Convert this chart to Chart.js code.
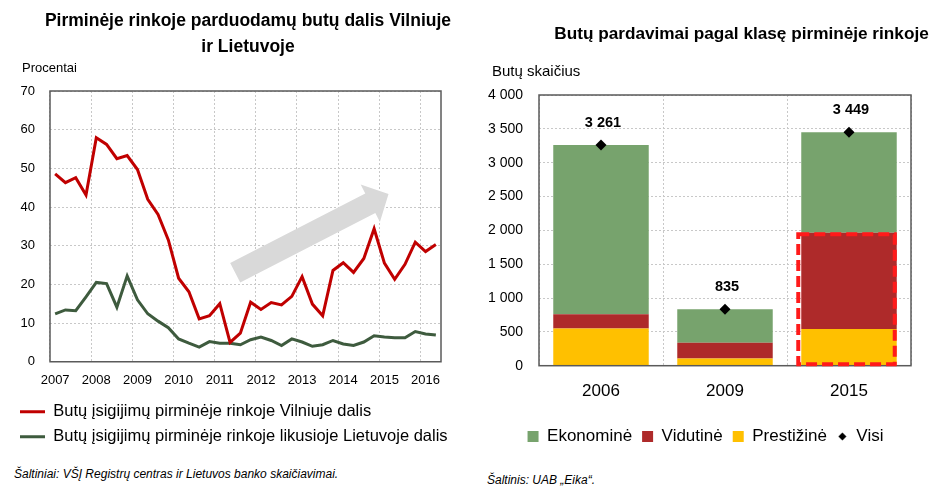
<!DOCTYPE html>
<html><head><meta charset="utf-8">
<script src="https://cdn.jsdelivr.net/npm/chart.js@4.4.1/dist/chart.umd.min.js"></script>
<style>
html,body{margin:0;padding:0;background:#fff;}
#wrap{position:relative;width:934px;height:496px;overflow:hidden;font-family:'Liberation Sans',Arial,sans-serif;color:#000;}
.box{position:absolute;}
.box canvas{display:block;}
.t{position:absolute;white-space:nowrap;}
</style></head><body>
<div id="wrap">
<div class="box" style="left:0;top:0;width:462px;height:455px"><canvas id="c1"></canvas></div>
<div class="box" style="left:470px;top:0;width:464px;height:455px"><canvas id="c2"></canvas></div>
<div class="t" style="left:0;width:496px;top:7px;text-align:center;font-weight:bold;font-size:17.5px;line-height:26px;white-space:normal">Pirminėje rinkoje parduodamų butų dalis Vilniuje<br>ir Lietuvoje</div>
<div class="t" style="left:541px;width:401px;top:20px;text-align:center;font-weight:bold;font-size:17.2px;line-height:26px">Butų pardavimai pagal klasę pirminėje rinkoje</div>
<div class="t" style="left:22px;top:60px;font-size:13px;line-height:16px">Procentai</div>
<div class="t" style="left:492px;top:62px;font-size:15px;line-height:18px">Butų skaičius</div>
<div class="t" style="left:14px;top:466px;font-size:12px;line-height:16px;font-style:italic">Šaltiniai: VŠĮ Registrų centras ir Lietuvos banko skaičiavimai.</div>
<div class="t" style="left:487px;top:472px;font-size:12px;line-height:16px;font-style:italic">Šaltinis: UAB „Eika“.</div>
</div>
<script>
// ---------- Left chart data ----------
const quarters = [
 '2007 K1','2007 K2','2007 K3','2007 K4',
 '2008 K1','2008 K2','2008 K3','2008 K4',
 '2009 K1','2009 K2','2009 K3','2009 K4',
 '2010 K1','2010 K2','2010 K3','2010 K4',
 '2011 K1','2011 K2','2011 K3','2011 K4',
 '2012 K1','2012 K2','2012 K3','2012 K4',
 '2013 K1','2013 K2','2013 K3','2013 K4',
 '2014 K1','2014 K2','2014 K3','2014 K4',
 '2015 K1','2015 K2','2015 K3','2015 K4',
 '2016 K1','2016 K2'
];
const vilniusShare = [48.6,46.3,47.6,43.1,57.9,56.2,52.5,53.3,49.7,42.0,38.1,31.5,21.6,18.1,11.1,11.9,15.0,5.0,7.4,15.4,13.5,15.3,14.7,16.9,22.0,14.9,11.9,23.6,25.6,23.1,26.7,34.4,25.5,21.3,25.2,30.9,28.5,30.3];
const restShare = [12.4,13.4,13.2,16.8,20.5,20.2,14.1,22.2,16.0,12.4,10.5,8.8,5.9,4.8,3.8,5.2,4.8,4.8,4.4,5.7,6.4,5.5,4.2,5.9,5.1,4.0,4.4,5.5,4.6,4.2,5.1,6.7,6.4,6.2,6.2,7.8,7.2,6.9];
const lineSeriesNames = ['Butų įsigijimų pirminėje rinkoje Vilniuje dalis','Butų įsigijimų pirminėje rinkoje likusioje Lietuvoje dalis'];
// trend arrow (annotation) in data units: [category index, value]
const arrowFrom = [17.5, 23.0];
const arrowTo = [32.4, 43.4];

// ---------- Right chart data ----------
const years = ['2006','2009','2015'];
const prestizine = [551,108,541];
const vidutine = [211,231,1422];
const ekonomine = [2499,496,1486];
const visi = [3261,835,3449];
const barSeriesNames = ['Prestižinė','Vidutinė','Ekonominė','Visi'];
const legendOrder = ['Ekonominė','Vidutinė','Prestižinė','Visi'];

const FONT = "'Liberation Sans', Arial, sans-serif";
Chart.defaults.font.family = FONT;
Chart.defaults.color = '#000';

const fmt = v => String(v).replace(/\B(?=(\d{3})+(?!\d))/g, ' ');

const framePlugin = {
  id: 'frame',
  afterDatasetsDraw(chart) {
    const a = chart.chartArea, ctx = chart.ctx;
    ctx.save();
    ctx.strokeStyle = '#5a5a5a';
    ctx.lineWidth = 1.5;
    ctx.strokeRect(a.left, a.top, a.right - a.left, a.bottom - a.top);
    ctx.restore();
  }
};

// let y tick labels extend left of the (narrow) axis box
const noLabelClipPlugin = {
  id: 'noLabelClip',
  beforeDraw(chart) {
    Object.values(chart.scales).forEach(s => { if (s.axis === 'y') s._computeLabelArea = () => undefined; });
  }
};

const arrowPlugin = {
  id: 'trendArrow',
  beforeDatasetsDraw(chart) {
    const xs = chart.scales.x, ys = chart.scales.y, ctx = chart.ctx;
    const x0 = xs.getPixelForValue(arrowFrom[0]), y0 = ys.getPixelForValue(arrowFrom[1]);
    const x1 = xs.getPixelForValue(arrowTo[0]), y1 = ys.getPixelForValue(arrowTo[1]);
    const dx = x1 - x0, dy = y1 - y0, L = Math.hypot(dx, dy);
    const ux = dx / L, uy = dy / L, nx = -uy, ny = ux;
    const sw = 11, hw = 21, hl = 20.5;
    const bx = x1 - ux * hl, by = y1 - uy * hl;
    ctx.save();
    ctx.fillStyle = '#d9d9d9';
    ctx.beginPath();
    ctx.moveTo(x0 + nx * sw, y0 + ny * sw);
    ctx.lineTo(bx + nx * sw, by + ny * sw);
    ctx.lineTo(bx + nx * hw, by + ny * hw);
    ctx.lineTo(x1, y1);
    ctx.lineTo(bx - nx * hw, by - ny * hw);
    ctx.lineTo(bx - nx * sw, by - ny * sw);
    ctx.lineTo(x0 - nx * sw, y0 - ny * sw);
    ctx.closePath();
    ctx.fill();
    ctx.restore();
  }
};

new Chart(document.getElementById('c1'), {
  type: 'line',
  data: {
    labels: quarters,
    datasets: [
      { label: lineSeriesNames[0], data: vilniusShare, borderColor: '#c00000', backgroundColor: '#c00000', borderWidth: 3, pointRadius: 0, tension: 0, pointStyle: 'line' },
      { label: lineSeriesNames[1], data: restShare, borderColor: '#3e5b3e', backgroundColor: '#3e5b3e', borderWidth: 3, pointRadius: 0, tension: 0, pointStyle: 'line' }
    ]
  },
  options: {
    responsive: true, maintainAspectRatio: false, animation: false,
    layout: { padding: { left: 11.5, right: 2, top: 91, bottom: 0 } },
    plugins: {
      title: { display: false },
      tooltip: { enabled: false },
      legend: {
        position: 'bottom', align: 'start',
        labels: { font: { size: 16.5 }, usePointStyle: true, pointStyleWidth: 25, boxHeight: 16.5, padding: 8.5, color: '#000' }
      }
    },
    scales: {
      x: {
        type: 'category', offset: true,
        grid: { offset: true, drawTicks: false, color: c => (c.index % 4 === 0 ? '#c8c8c8' : 'rgba(0,0,0,0)'), lineWidth: 1 },
        border: { display: false, dash: [2, 2] },
        ticks: { autoSkip: false, maxRotation: 0, padding: 11, font: { size: 13 },
          callback: function (v, i) { const l = quarters[i]; return l.endsWith('K1') ? l.slice(0, 4) : ''; } },
        afterFit(s) { s.height = 33.25; }
      },
      y: {
        min: 0, max: 70,
        ticks: { stepSize: 10, padding: 15, font: { size: 13 } },
        grid: { drawTicks: false, color: '#c8c8c8' },
        border: { display: false, dash: [2, 2] },
        afterFit(s) { s.width = 38.5; }
      },
      yRight: {
        position: 'right', min: 0, max: 70,
        ticks: { display: false },
        grid: { display: false, drawTicks: false },
        border: { display: false },
        afterFit(s) { s.width = 19; }
      }
    }
  },
  plugins: [noLabelClipPlugin, arrowPlugin, framePlugin]
});

// ---------- Right chart ----------
const diamondIcon = (() => {
  const c = document.createElement('canvas');
  c.width = 9; c.height = 9;
  const g = c.getContext('2d');
  g.fillStyle = '#000';
  g.beginPath(); g.moveTo(4.5, 0.5); g.lineTo(8.5, 4.5); g.lineTo(4.5, 8.5); g.lineTo(0.5, 4.5); g.closePath(); g.fill();
  return c;
})();

const totalsLabelPlugin = {
  id: 'totalsLabels',
  afterDatasetsDraw(chart) {
    const meta = chart.getDatasetMeta(3), ctx = chart.ctx;
    ctx.save();
    ctx.font = 'bold 14.5px ' + FONT;
    ctx.fillStyle = '#000';
    ctx.textAlign = 'center';
    ctx.textBaseline = 'middle';
    meta.data.forEach((pt, i) => { ctx.fillText(fmt(visi[i]), pt.x + 2, pt.y - 22); });
    ctx.restore();
  }
};

const highlightPlugin = {
  id: 'highlight2015',
  afterDatasetsDraw(chart) {
    const el = chart.getDatasetMeta(1).data[2];
    const base = chart.scales.y.getPixelForValue(0);
    const left = el.x - el.width / 2, right = el.x + el.width / 2;
    const ctx = chart.ctx;
    ctx.save();
    ctx.strokeStyle = '#ff1a1a';
    ctx.lineWidth = 4;
    ctx.setLineDash([11, 5]);
    ctx.strokeRect(left - 3, el.y + 1.5, (right - 2) - (left - 3), base - 1.5 - (el.y + 1.5));
    ctx.restore();
  }
};

new Chart(document.getElementById('c2'), {
  type: 'bar',
  data: {
    labels: years,
    datasets: [
      { label: barSeriesNames[0], data: prestizine, backgroundColor: '#ffc000', pointStyle: 'rect', stack: 'k', barPercentage: 0.77, categoryPercentage: 1 },
      { label: barSeriesNames[1], data: vidutine, backgroundColor: '#ae2a2a', pointStyle: 'rect', stack: 'k', barPercentage: 0.77, categoryPercentage: 1 },
      { label: barSeriesNames[2], data: ekonomine, backgroundColor: '#77a36d', pointStyle: 'rect', stack: 'k', barPercentage: 0.77, categoryPercentage: 1 },
      { type: 'line', label: barSeriesNames[3], data: visi, order: -1, showLine: false, pointStyle: 'rectRot', pointRadius: 5.5, pointBackgroundColor: '#000', pointBorderWidth: 0, borderColor: '#000', backgroundColor: '#000', stack: 'visi' }
    ]
  },
  options: {
    responsive: true, maintainAspectRatio: false, animation: false,
    layout: { padding: { left: 30, right: 23, top: 95, bottom: 0 } },
    plugins: {
      tooltip: { enabled: false },
      legend: {
        position: 'bottom', align: 'center',
        labels: {
          font: { size: 17 }, usePointStyle: true, boxWidth: 11, boxHeight: 11, padding: 10, color: '#000',
          sort: (a, b) => legendOrder.indexOf(a.text) - legendOrder.indexOf(b.text),
          generateLabels(chart) {
            const items = Chart.defaults.plugins.legend.labels.generateLabels(chart);
            items.forEach(it => { it.lineWidth = 0; if (it.text === 'Visi') it.pointStyle = diamondIcon; });
            return items;
          }
        }
      }
    },
    scales: {
      x: {
        stacked: true,
        grid: { offset: true, drawTicks: false, color: '#c8c8c8' },
        border: { display: false, dash: [2, 2] },
        ticks: { padding: 15.8, font: { size: 17 } },
        afterFit(s) { s.height = 52.3; }
      },
      y: {
        stacked: true, min: 0, max: 4000,
        ticks: { stepSize: 500, padding: 16, font: { size: 14 }, callback: v => fmt(v) },
        grid: { drawTicks: false, color: '#c8c8c8' },
        border: { display: false, dash: [2, 2] },
        afterFit(s) { s.width = 39; }
      }
    }
  },
  plugins: [noLabelClipPlugin, framePlugin, totalsLabelPlugin, highlightPlugin]
});
</script>
</body></html>
